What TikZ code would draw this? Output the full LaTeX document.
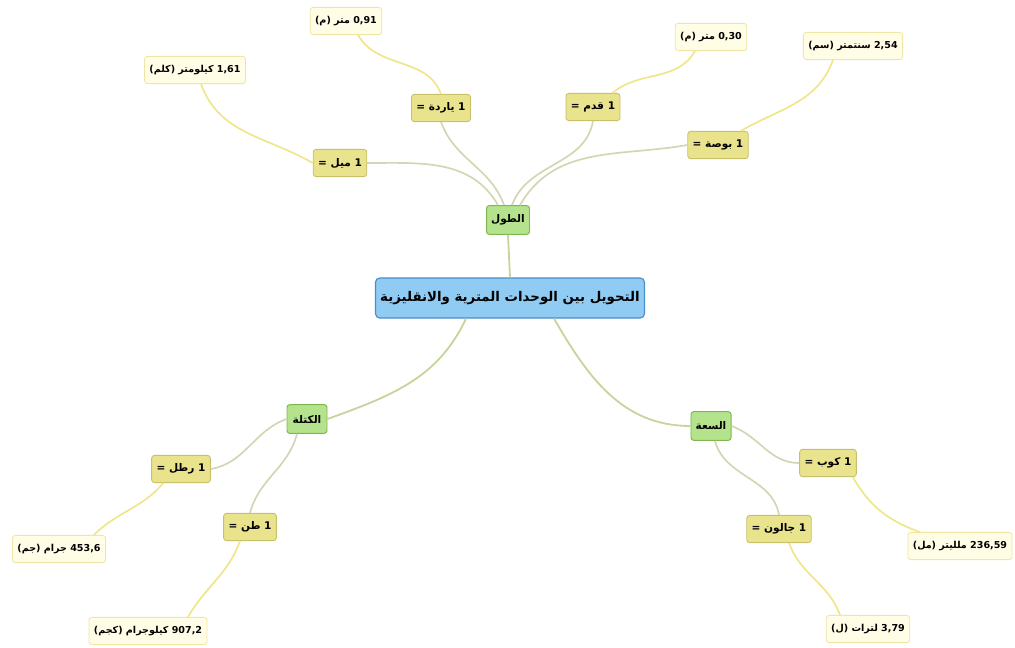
\documentclass[tikz,border=0pt]{standalone}
\usepackage{fontspec}
\newfontfamily\arabicfont[Script=Arabic]{DejaVu Sans}
\TeXXeTstate=1
\newcommand{\artext}[1]{\arabicfont\bfseries\beginR #1\endR}
\newcommand{\latn}[1]{\beginL #1\endL{}}
\definecolor{centerfill}{HTML}{8FCBF2}
\definecolor{centerdraw}{HTML}{4A8FC6}
\definecolor{catfill}{HTML}{B5E38D}
\definecolor{catdraw}{HTML}{7DB74E}
\definecolor{eqfill}{HTML}{E9E38E}
\definecolor{eqdraw}{HTML}{C9C06A}
\definecolor{valfill}{HTML}{FFFDE6}
\definecolor{valdraw}{HTML}{EFE6A6}
\definecolor{catline}{HTML}{C6D59B}
\definecolor{eqline}{HTML}{D3D6B2}
\definecolor{valline}{HTML}{EFE68A}
\tikzset{
  centerbox/.style={draw=centerdraw, fill=centerfill, rounded corners=3pt, line width=0.8pt,
    minimum width=6.35cm, minimum height=1cm, font=\fontsize{9.5}{11}\selectfont},
  catbox/.style={draw=catdraw, fill=catfill, rounded corners=2pt, line width=0.7pt,
    minimum width=1cm, minimum height=0.72cm, font=\fontsize{7.5}{9}\selectfont},
  eqbox/.style={draw=eqdraw, fill=eqfill, rounded corners=2pt, line width=0.6pt,
    minimum height=0.68cm, inner xsep=3.5pt, font=\fontsize{7.5}{9}\selectfont},
  valbox/.style={draw=valdraw, fill=valfill, rounded corners=2pt, line width=0.6pt,
    minimum height=0.68cm, inner xsep=3.5pt, font=\fontsize{6.8}{9}\selectfont},
  catlink/.style={draw=catline, line width=1.3pt},
  eqlink/.style={draw=eqline, line width=1.2pt},
  vallink/.style={draw=valline, line width=1.2pt}
}
\begin{document}
\begin{tikzpicture}
\useasboundingbox (0,0) rectangle (25.375,-16.2);
% centre and main branches
\node [centerbox] (center) at (12.75,-7.45) {\artext{التحويل بين الوحدات المترية والانقليزية}};
\node [catbox] (len) at (12.7,-5.5) {\artext{الطول}};
\node [catbox] (mass) at (7.675,-10.475) {\artext{الكتلة}};
\node [catbox] (cap) at (17.775,-10.65) {\artext{السعة}};
% length
\node [eqbox] (mile) at (8.5,-4.075) {\artext{\latn{1} ميل =}};
\node [valbox] (mileval) at (4.875,-1.75) {\artext{\latn{1,61} كيلومتر (كلم)}};
\node [eqbox] (yard) at (11.025,-2.7) {\artext{\latn{1} ياردة =}};
\node [valbox] (yardval) at (8.65,-0.525) {\artext{\latn{0,91} متر (م)}};
\node [eqbox] (foot) at (14.825,-2.675) {\artext{\latn{1} قدم =}};
\node [valbox] (footval) at (17.775,-0.925) {\artext{\latn{0,30} متر (م)}};
\node [eqbox] (inch) at (17.95,-3.625) {\artext{\latn{1} بوصة =}};
\node [valbox] (inchval) at (21.325,-1.15) {\artext{\latn{2,54} سنتمتر (سم)}};
% mass
\node [eqbox] (pound) at (4.525,-11.725) {\artext{\latn{1} رطل =}};
\node [valbox] (poundval) at (1.475,-13.725) {\artext{\latn{453,6} جرام (جم)}};
\node [eqbox] (ton) at (6.25,-13.175) {\artext{\latn{1} طن =}};
\node [valbox] (tonval) at (3.7,-15.775) {\artext{\latn{907,2} كيلوجرام (كجم)}};
% capacity
\node [eqbox] (cup) at (20.7,-11.575) {\artext{\latn{1} كوب =}};
\node [valbox] (cupval) at (24.0,-13.65) {\artext{\latn{236,59} ملليتر (مل)}};
\node [eqbox] (gallon) at (19.475,-13.225) {\artext{\latn{1} جالون =}};
\node [valbox] (gallonval) at (21.7,-15.725) {\artext{\latn{3,79} لترات (ل)}};
% links
\draw [catlink] (center.north) -- (len.south);
\draw [catlink] ([xshift=-1.1cm]center.south) to[out=-115,in=20] (mass.east);
\draw [catlink] ([xshift=1.1cm]center.south) to[out=-60,in=180] (cap.west);
\draw [eqlink] ([xshift=-0.25cm]len.north) to[out=120,in=0] (mile.east);
\draw [eqlink] ([xshift=-0.1cm]len.north) to[out=110,in=-70] (yard.south);
\draw [eqlink] ([xshift=0.1cm]len.north) to[out=70,in=-100] (foot.south);
\draw [eqlink] ([xshift=0.3cm]len.north) to[out=60,in=190] (inch.west);
\draw [eqlink] (mass.west) to[out=-160,in=10] (pound.east);
\draw [eqlink] ([xshift=-0.25cm]mass.south) to[out=-105,in=75] (ton.north);
\draw [eqlink] (cap.east) to[out=-20,in=180] (cup.west);
\draw [eqlink] ([xshift=0.1cm]cap.south) to[out=-75,in=100] (gallon.north);
\draw [vallink] (mile.west) to[out=150,in=-70] ([xshift=0.15cm]mileval.south);
\draw [vallink] (yard.north) to[out=110,in=-60] ([xshift=0.3cm]yardval.south);
\draw [vallink] ([xshift=-0.2cm]foot.north east) to[out=40,in=-120] ([xshift=-0.4cm]footval.south);
\draw [vallink] ([xshift=-0.2cm]inch.north east) to[out=30,in=-110] ([xshift=-0.5cm]inchval.south);
\draw [vallink] ([xshift=0.3cm]pound.south west) to[out=-130,in=45] ([xshift=-0.3cm]poundval.north east);
\draw [vallink] ([xshift=-0.25cm]ton.south) to[out=-110,in=60] ([xshift=1cm]tonval.north);
\draw [vallink] ([xshift=-0.1cm]cup.south east) to[out=-60,in=160] ([xshift=0.3cm]cupval.north west);
\draw [vallink] ([xshift=0.25cm]gallon.south) to[out=-70,in=110] ([xshift=-0.7cm]gallonval.north);
\end{tikzpicture}
\end{document}
